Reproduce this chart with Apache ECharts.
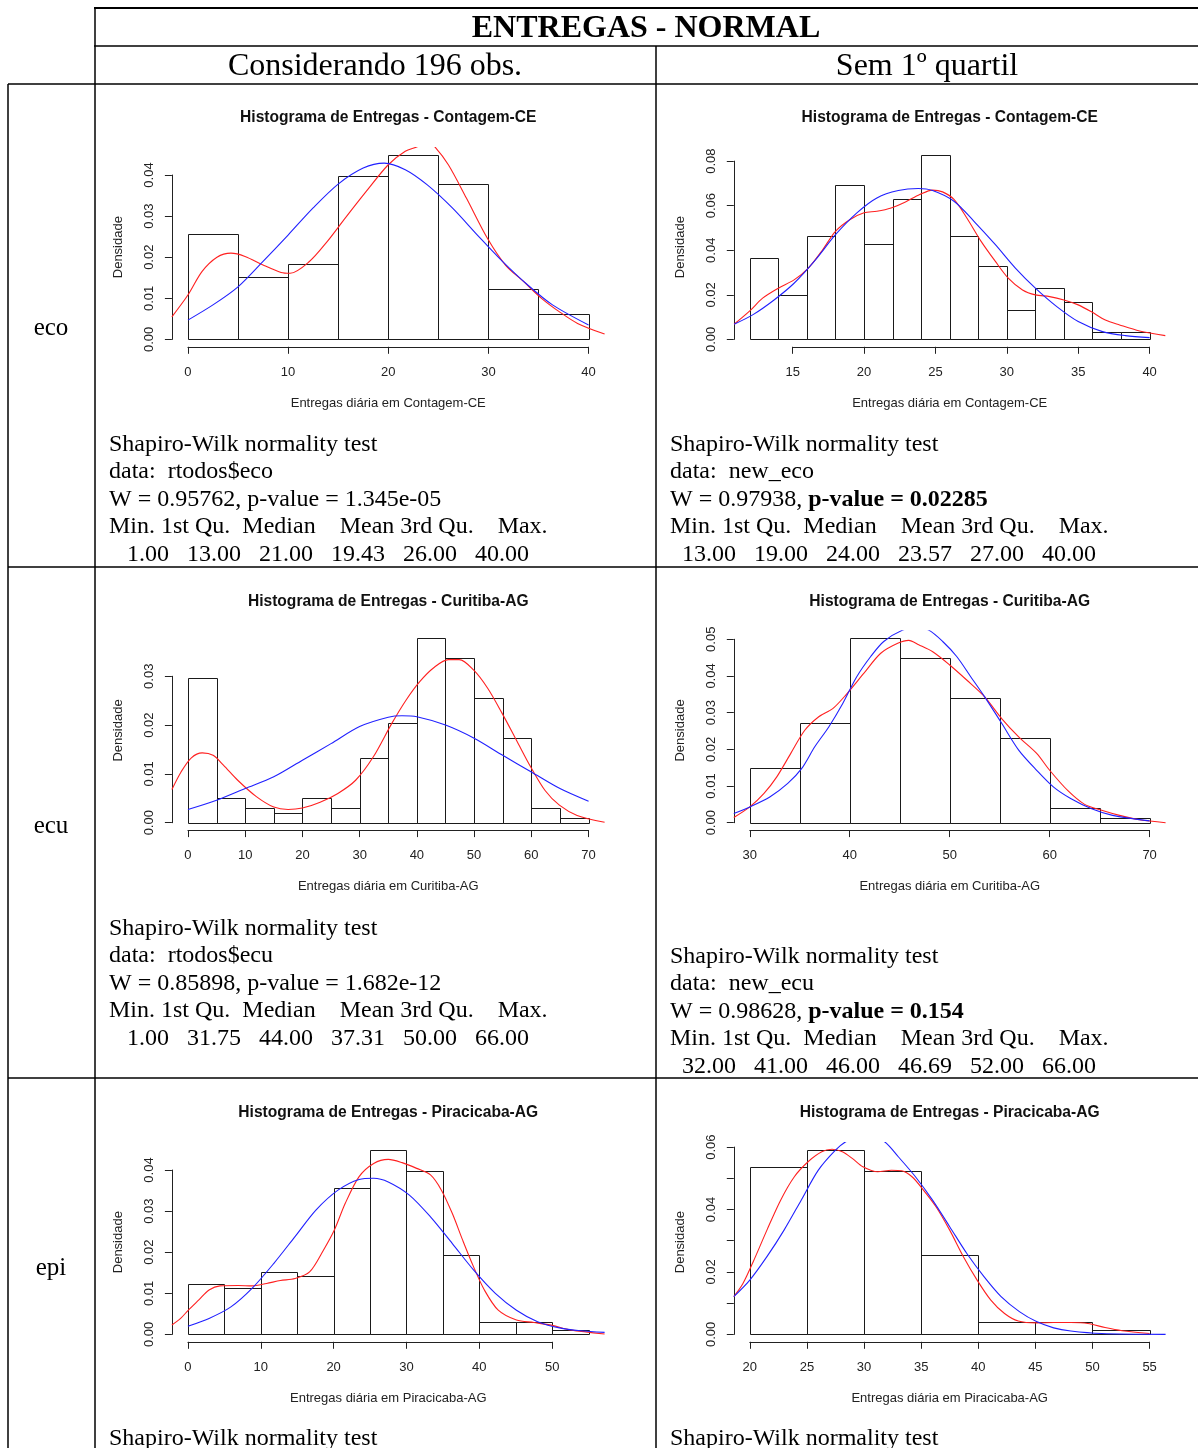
<!DOCTYPE html>
<html>
<head>
<meta charset="utf-8">
<script src="https://cdn.jsdelivr.net/npm/echarts@6/dist/echarts.min.js"></script>
<style>
html, body { margin: 0; padding: 0; background: #fff; }
#main { width: 1198px; height: 1448px; }
</style>
</head>
<body>
<div id="main"></div>
<script>
// --- dados ---
// eco, 196 obs.
const ecoAllBreaks = [0, 5, 10, 15, 20, 25, 30, 35, 40]
const ecoAllDens = [0.0256, 0.0153, 0.0184, 0.0398, 0.0449, 0.0378, 0.0122, 0.0061]
const ecoAllKde = [[-1.6, 0.0055], [0, 0.0108], [1.4, 0.0165], [2.9, 0.0200], [4.3, 0.0210], [5.7, 0.0202], [7.5, 0.0181], [9.3, 0.0163], [10.2, 0.0161], [12.1, 0.0189], [13.9, 0.0238], [15.7, 0.0295], [17.8, 0.0360], [20.0, 0.0425], [21.7, 0.0458], [23.0, 0.0470], [23.8, 0.0485], [24.6, 0.0470], [26.0, 0.0425], [27.8, 0.0344], [29.9, 0.0246], [31.7, 0.0181], [33.5, 0.0141], [35.3, 0.0100], [37.1, 0.0067], [38.9, 0.0039], [41.6, 0.0013]]
const ecoAllNorm = [[0, 0.0047], [2.5, 0.0084], [5, 0.0128], [7.5, 0.0190], [10, 0.0254], [12.5, 0.0320], [15, 0.0378], [17.5, 0.0417], [19.6, 0.0429], [21.7, 0.0413], [23.9, 0.0376], [26.4, 0.0320], [28.9, 0.0254], [31.4, 0.0190], [33.9, 0.0133], [36.4, 0.0084], [40, 0.0035]]
const ecoAllXTicks = [0, 10, 20, 30, 40]
const ecoAllYTicks = [0, 0.01, 0.02, 0.03, 0.04]

// eco, sem 1o quartil
const ecoQBreaks = [12, 14, 16, 18, 20, 22, 24, 26, 28, 30, 32, 34, 36, 38, 40]
const ecoQDens = [0.0364, 0.0199, 0.0464, 0.0695, 0.0430, 0.0629, 0.0828, 0.0464, 0.0331, 0.0132, 0.0232, 0.0166, 0.0033, 0.0033]
const ecoQKde = [[10.9, 0.0068], [12.0, 0.0128], [12.9, 0.0185], [14.0, 0.0230], [15.1, 0.0267], [16.1, 0.0320], [17.1, 0.0402], [18.0, 0.0485], [19.0, 0.0537], [20.0, 0.0568], [20.9, 0.0575], [21.9, 0.0590], [22.9, 0.0617], [23.9, 0.0650], [24.8, 0.0670], [25.5, 0.0662], [26.3, 0.0628], [27.2, 0.0545], [28.2, 0.0440], [29.2, 0.0350], [30.1, 0.0275], [31.1, 0.0222], [32.0, 0.0200], [33.0, 0.0192], [34.0, 0.0177], [35.0, 0.0155], [35.9, 0.0125], [36.9, 0.0087], [37.9, 0.0065], [39.3, 0.0038], [41.1, 0.0017]]
const ecoQNorm = [[10.9, 0.0068], [12.2, 0.0110], [13.7, 0.0177], [15.1, 0.0252], [16.6, 0.0357], [18.0, 0.0470], [19.5, 0.0568], [20.9, 0.0635], [22.4, 0.0668], [23.8, 0.0677], [24.8, 0.0668], [26.3, 0.0620], [27.7, 0.0530], [29.2, 0.0425], [30.6, 0.0320], [32.0, 0.0230], [33.5, 0.0147], [35.0, 0.0080], [36.7, 0.0035], [38.3, 0.0017], [40, 0.0008]]
const ecoQXTicks = [15, 20, 25, 30, 35, 40]
const ecoQYTicks = [0, 0.02, 0.04, 0.06, 0.08]

// ecu, 196 obs.
const ecuAllBreaks = [0, 5, 10, 15, 20, 25, 30, 35, 40, 45, 50, 55, 60, 65, 70]
const ecuAllDens = [0.0296, 0.0051, 0.0031, 0.0020, 0.0051, 0.0031, 0.0133, 0.0204, 0.0378, 0.0337, 0.0255, 0.0173, 0.0031, 0.0010]
const ecuAllKde = [[-2.8, 0.0068], [-1.2, 0.0104], [0.6, 0.0133], [2.5, 0.0143], [4.4, 0.0138], [6.2, 0.0118], [8.7, 0.0087], [11.9, 0.0054], [15, 0.0032], [17.5, 0.0027], [20, 0.0030], [23.1, 0.0042], [26.2, 0.0060], [29.3, 0.0087], [32.4, 0.0135], [35.6, 0.0203], [38.1, 0.0251], [40.5, 0.0289], [43, 0.0318], [45.5, 0.0334], [47.4, 0.0334], [49.9, 0.0313], [52.4, 0.0275], [54.9, 0.0224], [57.4, 0.0169], [59.9, 0.0114], [62.4, 0.0066], [64.9, 0.0036], [68, 0.0015], [72.8, 0.0001]]
const ecuAllNorm = [[0, 0.0027], [5, 0.0046], [10, 0.0070], [15, 0.0094], [20, 0.0128], [25, 0.0162], [30, 0.0197], [35, 0.0216], [37.4, 0.0219], [40, 0.0217], [45, 0.0200], [50, 0.0173], [55, 0.0138], [60, 0.0104], [65, 0.0070], [70, 0.0044]]
const ecuAllXTicks = [0, 10, 20, 30, 40, 50, 60, 70]
const ecuAllYTicks = [0, 0.01, 0.02, 0.03]

// ecu, sem 1o quartil
const ecuQBreaks = [30, 35, 40, 45, 50, 55, 60, 65, 70]
const ecuQDens = [0.0150, 0.0272, 0.0503, 0.0449, 0.0340, 0.0231, 0.0041, 0.0014]
const ecuQKde = [[28.4, 0.0014], [30, 0.0043], [31.4, 0.0079], [32.7, 0.0125], [34.1, 0.0189], [35.5, 0.0252], [36.9, 0.0289], [38.3, 0.0311], [39.6, 0.0348], [41.4, 0.0407], [43.1, 0.0462], [44.8, 0.0489], [45.9, 0.0497], [46.9, 0.0485], [48.3, 0.0466], [50, 0.0430], [51.7, 0.0389], [53.5, 0.0343], [55.2, 0.0284], [56.9, 0.0234], [58.7, 0.0189], [60, 0.0143], [61.8, 0.0088], [63.5, 0.0050], [65.2, 0.0034], [67, 0.0020], [69, 0.0008], [71.6, 0.0000]]
const ecuQNorm = [[28.4, 0.0025], [30, 0.0043], [32, 0.0070], [33.8, 0.0107], [35.2, 0.0148], [36.5, 0.0207], [37.9, 0.0261], [39.3, 0.0325], [40.7, 0.0398], [42.1, 0.0453], [43.4, 0.0494], [45.3, 0.0525], [46.7, 0.0532], [47.9, 0.0525], [49.3, 0.0494], [50.7, 0.0453], [52.1, 0.0398], [53.5, 0.0343], [55.2, 0.0271], [56.9, 0.0198], [58.7, 0.0143], [60.4, 0.0097], [62.1, 0.0066], [64.2, 0.0038], [66.3, 0.0020], [70, 0.0005]]
const ecuQXTicks = [30, 40, 50, 60, 70]
const ecuQYTicks = [0, 0.01, 0.02, 0.03, 0.04, 0.05]

// epi, 196 obs.
const epiAllBreaks = [0, 5, 10, 15, 20, 25, 30, 35, 40, 45, 50, 55]
const epiAllDens = [0.0122, 0.0112, 0.0153, 0.0143, 0.0357, 0.0449, 0.0398, 0.0194, 0.0031, 0.0031, 0.0010]
const epiAllKde = [[-2.2, 0.0023], [-1, 0.0039], [0, 0.0058], [1.5, 0.0084], [2.9, 0.0108], [4.4, 0.0118], [6.9, 0.0119], [8.8, 0.0118], [10.8, 0.0124], [12.7, 0.0131], [14.7, 0.0136], [16.7, 0.0152], [18.6, 0.0205], [20.1, 0.0254], [21.6, 0.0319], [23.5, 0.0384], [25.5, 0.0416], [27.5, 0.0426], [29.4, 0.0418], [31.4, 0.0404], [33.3, 0.0388], [34.8, 0.0351], [36.3, 0.0294], [37.7, 0.0230], [39.2, 0.0165], [40.7, 0.0108], [42.6, 0.0059], [45.1, 0.0035], [47.5, 0.0029], [50, 0.0022], [52.5, 0.0011], [57.2, 0.0001]]
const epiAllNorm = [[0, 0.0020], [2.9, 0.0039], [5.9, 0.0067], [8.8, 0.0112], [11.8, 0.0173], [14.7, 0.0238], [17.6, 0.0303], [20.6, 0.0351], [23.5, 0.0377], [25.5, 0.0380], [27.5, 0.0371], [30.4, 0.0339], [33.3, 0.0286], [36.3, 0.0221], [39.2, 0.0157], [42.2, 0.0100], [45.1, 0.0059], [48, 0.0031], [51, 0.0016], [53.9, 0.0009], [57.2, 0.0005]]
const epiAllXTicks = [0, 10, 20, 30, 40, 50]
const epiAllYTicks = [0, 0.01, 0.02, 0.03, 0.04]

// epi, sem 1o quartil
const epiQBreaks = [20, 25, 30, 35, 40, 45, 50, 55]
const epiQDens = [0.0537, 0.0591, 0.0523, 0.0255, 0.0040, 0.0040, 0.0013]
const epiQKde = [[18.6, 0.0121], [19.4, 0.0163], [20.3, 0.0233], [21.5, 0.0334], [22.7, 0.0430], [23.9, 0.0505], [25.1, 0.0553], [26.3, 0.0585], [27.2, 0.0593], [28.1, 0.0585], [29, 0.0563], [29.9, 0.0537], [31.2, 0.0521], [32.4, 0.0526], [33.3, 0.0524], [34.2, 0.0505], [35.1, 0.0467], [36.3, 0.0409], [37.5, 0.0334], [38.7, 0.0249], [39.9, 0.0174], [41.1, 0.0110], [42.3, 0.0067], [43.5, 0.0043], [45.1, 0.0037], [46.6, 0.0038], [48.1, 0.0038], [49.6, 0.0035], [51.1, 0.0022], [52.6, 0.0012], [55, 0.0003]]
const epiQNorm = [[18.6, 0.0121], [20, 0.0174], [21.5, 0.0249], [23, 0.0334], [24.5, 0.0430], [26, 0.0526], [27.5, 0.0590], [28.4, 0.0617], [30.1, 0.0645], [31.8, 0.0617], [33, 0.0569], [34.5, 0.0505], [36, 0.0430], [37.5, 0.0345], [39, 0.0259], [40.5, 0.0185], [42, 0.0121], [43.6, 0.0073], [45.1, 0.0041], [46.6, 0.0021], [48.1, 0.0011], [50.8, 0.0003], [56.4, 0]]
const epiQXTicks = [20, 25, 30, 35, 40, 45, 50, 55]
const epiQYTicks = [0, 0.01, 0.02, 0.03, 0.04, 0.05, 0.06]

// textos das tabelas
const txtEcoAll = ['Shapiro-Wilk normality test', 'data:  rtodos$eco', 'W = 0.95762, p-value = 1.345e-05', 'Min. 1st Qu.  Median    Mean 3rd Qu.    Max.', '   1.00   13.00   21.00   19.43   26.00   40.00']
const txtEcoQ = ['Shapiro-Wilk normality test', 'data:  new_eco', 'W = 0.97938, {b|p-value = 0.02285}', 'Min. 1st Qu.  Median    Mean 3rd Qu.    Max.', '  13.00   19.00   24.00   23.57   27.00   40.00']
const txtEcuAll = ['Shapiro-Wilk normality test', 'data:  rtodos$ecu', 'W = 0.85898, p-value = 1.682e-12', 'Min. 1st Qu.  Median    Mean 3rd Qu.    Max.', '   1.00   31.75   44.00   37.31   50.00   66.00']
const txtEcuQ = ['Shapiro-Wilk normality test', 'data:  new_ecu', 'W = 0.98628, {b|p-value = 0.154}', 'Min. 1st Qu.  Median    Mean 3rd Qu.    Max.', '  32.00   41.00   46.00   46.69   52.00   66.00']
const txtEpi = ['Shapiro-Wilk normality test']

const SANS = '"Liberation Sans", Arial, sans-serif'
const SERIF = '"Liberation Serif", "Times New Roman", serif'

// posicao das regioes de plotagem (como no R)
const colLeft = [171.9, 733.8]
const colWidth = [432.7, 431.8]
const rowTop = [147.5, 630.8, 1142.5]
const plotH = 199.3

const panels = [
  { breaks: ecoAllBreaks, dens: ecoAllDens, kde: ecoAllKde, norm: ecoAllNorm, xTicks: ecoAllXTicks, yTicks: ecoAllYTicks, labelStep: 1, title: 'Histograma de Entregas - Contagem-CE', xName: 'Entregas diária em Contagem-CE', col: 0, row: 0 },
  { breaks: ecoQBreaks, dens: ecoQDens, kde: ecoQKde, norm: ecoQNorm, xTicks: ecoQXTicks, yTicks: ecoQYTicks, labelStep: 1, title: 'Histograma de Entregas - Contagem-CE', xName: 'Entregas diária em Contagem-CE', col: 1, row: 0 },
  { breaks: ecuAllBreaks, dens: ecuAllDens, kde: ecuAllKde, norm: ecuAllNorm, xTicks: ecuAllXTicks, yTicks: ecuAllYTicks, labelStep: 1, title: 'Histograma de Entregas - Curitiba-AG', xName: 'Entregas diária em Curitiba-AG', col: 0, row: 1 },
  { breaks: ecuQBreaks, dens: ecuQDens, kde: ecuQKde, norm: ecuQNorm, xTicks: ecuQXTicks, yTicks: ecuQYTicks, labelStep: 1, title: 'Histograma de Entregas - Curitiba-AG', xName: 'Entregas diária em Curitiba-AG', col: 1, row: 1 },
  { breaks: epiAllBreaks, dens: epiAllDens, kde: epiAllKde, norm: epiAllNorm, xTicks: epiAllXTicks, yTicks: epiAllYTicks, labelStep: 1, title: 'Histograma de Entregas - Piracicaba-AG', xName: 'Entregas diária em Piracicaba-AG', col: 0, row: 2 },
  { breaks: epiQBreaks, dens: epiQDens, kde: epiQKde, norm: epiQNorm, xTicks: epiQXTicks, yTicks: epiQYTicks, labelStep: 2, title: 'Histograma de Entregas - Piracicaba-AG', xName: 'Entregas diária em Piracicaba-AG', col: 1, row: 2 }
]

const grids = []
const xAxes = []
const yAxes = []
const series = []
const graphics = []

const hidden = { axisLine: { show: false }, axisTick: { show: false }, axisLabel: { show: false }, splitLine: { show: false } }

panels.forEach((p) => {
  const L = colLeft[p.col]
  const W = colWidth[p.col]
  const T = rowTop[p.row]
  const H = plotH
  const b0 = p.breaks[0]
  const bN = p.breaks[p.breaks.length - 1]
  const xlo = b0 - 0.04 * (bN - b0)
  const xhi = bN + 0.04 * (bN - b0)
  const dmax = Math.max(...p.dens)
  const ylo = -0.04 * dmax
  const yhi = 1.04 * dmax
  const g = grids.length

  // grade principal (sem eixos visiveis, so nomes)
  grids.push({ left: L, top: T, width: W, height: H })
  xAxes.push(Object.assign({ gridIndex: g, type: 'value', min: xlo, max: xhi, name: p.xName, nameLocation: 'middle', nameGap: 50, nameTextStyle: { fontFamily: SANS, fontSize: 13, color: '#222' } }, hidden))
  yAxes.push(Object.assign({ gridIndex: g, type: 'value', min: ylo, max: yhi, name: 'Densidade', nameLocation: 'middle', nameGap: 47, nameRotate: 90, nameTextStyle: { fontFamily: SANS, fontSize: 13, color: '#222' } }, hidden))

  // eixo x no estilo do R (linha so entre os ticks)
  const t0 = p.xTicks[0]
  const tN = p.xTicks[p.xTicks.length - 1]
  grids.push({ left: L + (t0 - xlo) / (xhi - xlo) * W, top: T + H - 10, width: (tN - t0) / (xhi - xlo) * W, height: 10 })
  xAxes.push({
    gridIndex: g + 1, type: 'value', min: t0, max: tN, interval: p.xTicks[1] - p.xTicks[0],
    axisLine: { lineStyle: { color: '#222', width: 1 } },
    axisTick: { length: 7, lineStyle: { color: '#222' } },
    axisLabel: { margin: 19, fontFamily: SANS, fontSize: 13, color: '#222', showMinLabel: true, showMaxLabel: true },
    splitLine: { show: false }
  })
  yAxes.push({ gridIndex: g + 1, type: 'value', show: false, min: 0, max: 1 })

  // eixo y no estilo do R
  const y0 = p.yTicks[0]
  const yN = p.yTicks[p.yTicks.length - 1]
  const yStep = p.yTicks[1] - p.yTicks[0]
  grids.push({ left: L, top: T + (yhi - yN) / (yhi - ylo) * H, width: 10, height: (yN - y0) / (yhi - ylo) * H })
  xAxes.push({ gridIndex: g + 2, type: 'value', show: false, min: 0, max: 1 })
  yAxes.push({
    gridIndex: g + 2, type: 'value', min: y0, max: yN, interval: yStep,
    axisLine: { lineStyle: { color: '#222', width: 1 } },
    axisTick: { length: 7, lineStyle: { color: '#222' } },
    axisLabel: {
      rotate: 90, margin: 16, fontFamily: SANS, fontSize: 13, color: '#222', showMinLabel: true, showMaxLabel: true,
      formatter: (v) => Math.round((v - y0) / yStep) % p.labelStep === 0 ? v.toFixed(2) : ''
    },
    splitLine: { show: false }
  })

  // barras do histograma
  const bars = p.dens.map((d, k) => [p.breaks[k], p.breaks[k + 1], d])
  series.push({
    type: 'custom',
    xAxisIndex: g,
    yAxisIndex: g,
    encode: { x: [0, 1], y: 2 },
    data: bars,
    renderItem: (params, api) => {
      const a = api.coord([api.value(0), api.value(2)])
      const b = api.coord([api.value(1), 0])
      return {
        type: 'rect',
        shape: { x: Math.round(a[0]) + 0.5, y: Math.round(a[1]) + 0.5, width: Math.round(b[0]) - Math.round(a[0]), height: Math.round(b[1]) - Math.round(a[1]) },
        style: { fill: 'none', stroke: '#1a1a1a', lineWidth: 1 }
      }
    },
    silent: true
  })
  series.push({ type: 'line', xAxisIndex: g, yAxisIndex: g, data: p.kde, smooth: 0.3, showSymbol: false, symbol: 'none', clip: true, lineStyle: { color: '#ff2020', width: 1.1 }, silent: true, z: 3 })
  series.push({ type: 'line', xAxisIndex: g, yAxisIndex: g, data: p.norm, smooth: 0.3, showSymbol: false, symbol: 'none', clip: true, lineStyle: { color: '#2020ff', width: 1.1 }, silent: true, z: 4 })

  // titulo
  graphics.push({ type: 'text', x: L + W / 2, y: T - 29.5, style: { text: p.title, font: 'bold 15.6px ' + SANS, fill: '#111', textAlign: 'center', textVerticalAlign: 'middle' } })
})

// tabela: linhas
function hline (x1, x2, y, w) {
  graphics.push({ type: 'line', shape: { x1: x1, y1: y, x2: x2, y2: y }, style: { stroke: '#000', lineWidth: w || 1.5 } })
}
function vline (x, y1, y2, w) {
  graphics.push({ type: 'line', shape: { x1: x, y1: y1, x2: x, y2: y2 }, style: { stroke: '#000', lineWidth: w || 1.5 } })
}
hline(94, 1198, 8, 2)
hline(94, 1198, 46)
hline(8, 1198, 84)
hline(8, 1198, 567)
hline(8, 1198, 1078)
vline(95, 7, 1448)
vline(656, 46, 1448)
vline(8, 84, 1448)

// cabecalhos
function txt (s, x, y, font, align) {
  graphics.push({ type: 'text', x: x, y: y, style: { text: s, font: font, fill: '#000', textAlign: align || 'center', textVerticalAlign: 'middle' } })
}
txt('ENTREGAS - NORMAL', 646, 29, 'bold 32px ' + SERIF)
txt('Considerando 196 obs.', 375, 67, '32px ' + SERIF)
txt('Sem 1º quartil', 927, 67, '32px ' + SERIF)
txt('eco', 51, 328, '25px ' + SERIF)
txt('ecu', 51, 826, '25px ' + SERIF)
txt('epi', 51, 1268, '25px ' + SERIF)

// blocos de texto do teste
function block (lines, x, y0, dy) {
  lines.forEach((s, k) => {
    graphics.push({
      type: 'text', x: x, y: y0 + k * dy,
      style: {
        text: s, fontFamily: SERIF, fontSize: 24, fill: '#000', textAlign: 'left', textVerticalAlign: 'middle',
        rich: { b: { fontFamily: SERIF, fontSize: 24, fontWeight: 'bold', fill: '#000' } }
      }
    })
  })
}
block(txtEcoAll, 109, 444.5, 27.5)
block(txtEcoQ, 670, 444.5, 27.5)
block(txtEcuAll, 109, 928.5, 27.5)
block(txtEcuQ, 670, 956.5, 27.5)
block(txtEpi, 109, 1439, 27.5)
block(txtEpi, 670, 1439, 27.5)

const myChart = echarts.init(document.getElementById('main'), null, { renderer: 'canvas' })
myChart.setOption({
  backgroundColor: '#fff',
  animation: false,
  grid: grids,
  xAxis: xAxes,
  yAxis: yAxes,
  series: series,
  graphic: graphics
})
</script>
</body>
</html>
